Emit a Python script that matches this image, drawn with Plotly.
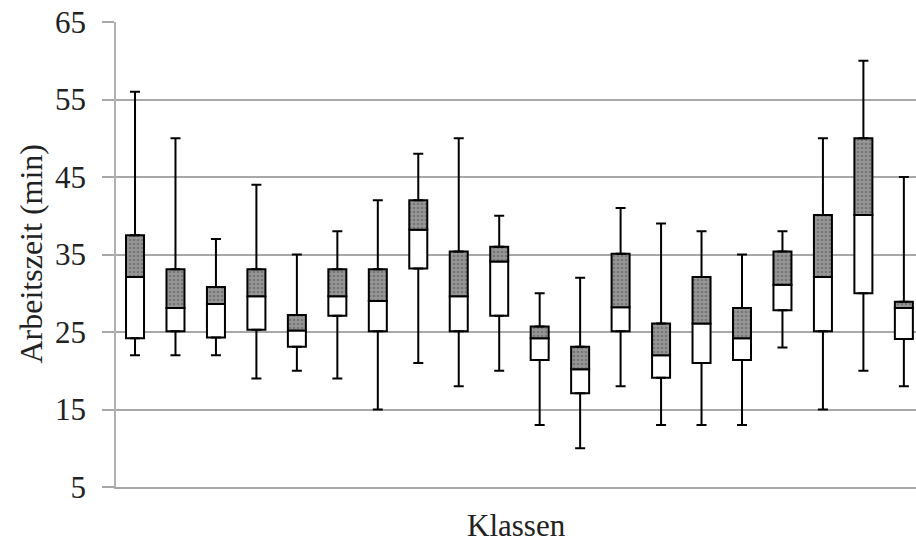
import plotly.graph_objects as go

classes = [f"Klasse {i}" for i in range(1, 21)]
whisker_low = [22, 22, 22, 19, 20, 19, 15, 21, 18, 20, 13, 10, 18, 13, 13, 13, 23, 15, 20, 18]
q1 = [24.2, 25.1, 24.3, 25.3, 23.1, 27.1, 25.1, 33.2, 25.1, 27.1, 21.4, 17.1, 25.1, 19.1, 21.0, 21.4, 27.8, 25.1, 30.0, 24.1]
median = [32.1, 28.1, 28.6, 29.6, 25.2, 29.6, 29.0, 38.2, 29.6, 34.1, 24.2, 20.2, 28.2, 22.0, 26.1, 24.2, 31.1, 32.1, 40.1, 28.1]
q3 = [37.5, 33.1, 30.8, 33.1, 27.2, 33.1, 33.1, 42.0, 35.4, 36.0, 25.7, 23.1, 35.1, 26.1, 32.1, 28.1, 35.4, 40.1, 50.0, 28.9]
whisker_high = [56, 50, 37, 44, 35, 38, 42, 48, 50, 40, 30, 32, 41, 39, 38, 35, 38, 50, 60, 45]
y_ticks = [5, 15, 25, 35, 45, 55, 65]

FONT = "Liberation Serif"
BW = 0.445

fig = go.Figure()

fig.add_trace(go.Bar(
    x=classes, base=q1, y=[m - a for m, a in zip(median, q1)],
    width=BW, marker=dict(color="white", line=dict(color="black", width=2)),
    showlegend=False, hoverinfo="skip"))

fig.add_trace(go.Bar(
    x=classes, base=median, y=[b - m for b, m in zip(q3, median)],
    width=BW,
    marker=dict(color="#8a8a8a", line=dict(color="black", width=2),
                pattern=dict(shape=".", fgcolor="#555555", bgcolor="#969696", size=4, solidity=0.35)),
    showlegend=False, hoverinfo="skip"))

fig.add_trace(go.Scatter(
    x=classes, y=q3, mode="markers", marker=dict(size=1, color="rgba(0,0,0,0)"),
    error_y=dict(type="data", symmetric=False,
                 array=[h - b for h, b in zip(whisker_high, q3)],
                 arrayminus=[0] * len(q3), color="black", thickness=2, width=5),
    showlegend=False, hoverinfo="skip"))

fig.add_trace(go.Scatter(
    x=classes, y=q1, mode="markers", marker=dict(size=1, color="rgba(0,0,0,0)"),
    error_y=dict(type="data", symmetric=False,
                 array=[0] * len(q1),
                 arrayminus=[a - l for a, l in zip(q1, whisker_low)], color="black", thickness=2, width=5),
    showlegend=False, hoverinfo="skip"))

fig.update_layout(
    width=916, height=542,
    margin=dict(l=116, r=0, t=22, b=55),
    paper_bgcolor="white", plot_bgcolor="white",
    barmode="overlay",
    font=dict(family=FONT, color="#222"),
    xaxis=dict(type="category", range=[-0.47, 19.3], showticklabels=False, ticks="",
               showgrid=False, zeroline=False, showline=True, linecolor="#a8a8a8", linewidth=2),
    yaxis=dict(range=[5, 65], tickvals=y_ticks, ticks="outside", ticklen=12, tickcolor="#a8a8a8",
               tickwidth=1.5, showgrid=True, gridcolor="#a8a8a8", gridwidth=1.5, zeroline=False,
               showline=True, linecolor="#b0b0b0", linewidth=1.5, automargin=False,
               ticklabelstandoff=10,
               tickfont=dict(family=FONT, size=31, color="#222")),
    annotations=[
        dict(text="Arbeitszeit (min)", xref="paper", yref="paper", x=0, y=0.5,
             xanchor="center", yanchor="middle", xshift=-86, textangle=-90, showarrow=False,
             font=dict(family=FONT, size=32, color="#222")),
        dict(text="Klassen", xref="paper", yref="paper", x=0.5, y=0,
             xanchor="center", yanchor="middle", yshift=-38, showarrow=False,
             font=dict(family=FONT, size=31, color="#222")),
    ],
)

fig.write_html("out.html", config={"displayModeBar": False},
               post_script="document.body.style.margin='0';document.body.style.overflow='hidden';")
